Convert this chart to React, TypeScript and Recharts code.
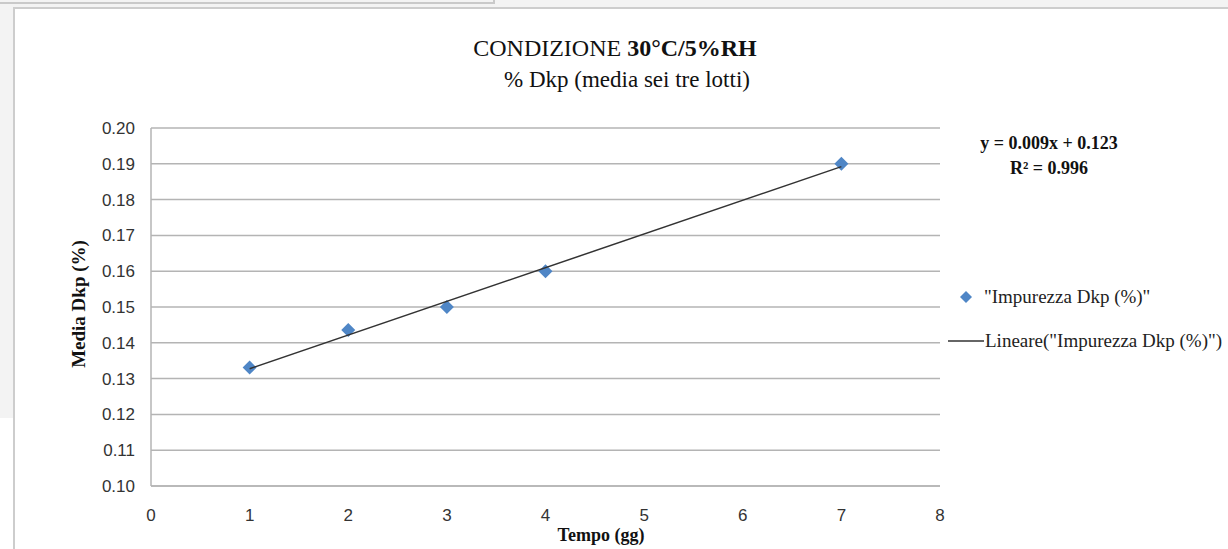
import React from "react"
import { ScatterChart, Scatter, XAxis, YAxis, CartesianGrid, Legend } from "recharts"

// mean Dkp impurity per sampling day (average of the three lots)
const days = [1, 2, 3, 4, 7]
const dkpMean = [0.1331, 0.1436, 0.15, 0.16, 0.19]

const xTicks = [0, 1, 2, 3, 4, 5, 6, 7, 8]
const yTicks = [0.1, 0.11, 0.12, 0.13, 0.14, 0.15, 0.16, 0.17, 0.18, 0.19, 0.2]

const seriesName = '"Impurezza Dkp (%)"'
const trendName = 'Lineare("Impurezza Dkp (%)")'
const equationText = "y = 0.009x + 0.123"
const r2Text = "R² = 0.996"

const points = days.map((d, i) => ({ x: d, y: dkpMean[i] }))

// least squares fit for the trend line
function linearFit(xs: number[], ys: number[]) {
  const n = xs.length
  const mx = xs.reduce((a, b) => a + b, 0) / n
  const my = ys.reduce((a, b) => a + b, 0) / n
  let sxy = 0
  let sxx = 0
  for (let i = 0; i < n; i++) {
    sxy += (xs[i] - mx) * (ys[i] - my)
    sxx += (xs[i] - mx) ** 2
  }
  const slope = sxy / sxx
  return { slope, intercept: my - slope * mx }
}

const fit = linearFit(days, dkpMean)
const trendPoints = [days[0], days[days.length - 1]].map((d) => ({
  x: d,
  y: fit.slope * d + fit.intercept,
}))

const GRID = "#b4b4b4"
const BLUE = "#4f86c6"
const SERIF = '"Liberation Serif", "Times New Roman", serif'
const SANS = '"Liberation Sans", Arial, sans-serif'

const Diamond = (props: any) => {
  const { cx, cy } = props
  const r = 7
  return (
    <polygon
      points={`${cx},${cy - r} ${cx + r},${cy} ${cx},${cy + r} ${cx - r},${cy}`}
      fill={BLUE}
    />
  )
}

const NoMarker = () => <g />

const LegendBox = () => (
  <div style={{ fontFamily: SERIF, fontSize: 19, color: "#222" }}>
    <div style={{ display: "flex", alignItems: "center", height: 28 }}>
      <svg width={37} height={20}>
        <polygon points="19,4 25,10 19,16 13,10" fill={BLUE} />
      </svg>
      <span>{seriesName}</span>
    </div>
    <div style={{ display: "flex", alignItems: "center", height: 28, marginTop: 16 }}>
      <svg width={38} height={20}>
        <line x1={1} y1={10} x2={37} y2={10} stroke="#333" strokeWidth={1.5} />
      </svg>
      <span>{trendName}</span>
    </div>
  </div>
)

export default function App() {
  return (
    <div
      style={{
        position: "absolute",
        left: 0,
        top: 0,
        width: 1228,
        height: 549,
        overflow: "hidden",
        background: "#f3f3f3",
      }}
    >
      <div
        style={{
          position: "absolute",
          left: 0,
          top: 0,
          width: 493,
          height: 2,
          borderBottom: "2px solid #c9c9c9",
          borderRight: "2px solid #c9c9c9",
        }}
      />
      <div style={{ position: "absolute", left: 0, top: 418, width: 14, height: 131, background: "#fff" }} />
      <div
        style={{
          position: "absolute",
          left: 13,
          top: 7,
          width: 1300,
          height: 600,
          background: "#fff",
          borderTop: "2px solid #cdcdcd",
          borderLeft: "2px solid #cdcdcd",
        }}
      />

      <div
        style={{
          position: "absolute",
          left: 0,
          top: 32,
          width: 1228,
          textAlign: "center",
          fontFamily: SERIF,
          lineHeight: "32px",
          color: "#111",
          paddingLeft: 14,
          boxSizing: "border-box",
        }}
      >
        <div style={{ fontSize: 24, marginLeft: -12 }}>
          CONDIZIONE <b>30°C/5%RH</b>
        </div>
        <div style={{ fontSize: 23, marginLeft: 12 }}>% Dkp (media sei tre lotti)</div>
      </div>

      <div
        style={{
          position: "absolute",
          left: 949,
          top: 131,
          width: 200,
          textAlign: "center",
          fontFamily: SERIF,
          fontWeight: "bold",
          fontSize: 18,
          lineHeight: "25px",
          color: "#111",
        }}
      >
        <div>{equationText}</div>
        <div>{r2Text}</div>
      </div>

      <div
        style={{
          position: "absolute",
          left: 79,
          top: 304,
          transform: "translate(-50%, -50%) rotate(-90deg)",
          whiteSpace: "nowrap",
          fontFamily: SERIF,
          fontWeight: "bold",
          fontSize: 19,
          color: "#111",
        }}
      >
        Media Dkp (%)
      </div>
      <div
        style={{
          position: "absolute",
          left: 601,
          top: 535,
          transform: "translate(-50%, -50%)",
          whiteSpace: "nowrap",
          fontFamily: SERIF,
          fontWeight: "bold",
          fontSize: 18,
          color: "#111",
        }}
      >
        Tempo (gg)
      </div>

      <div style={{ position: "absolute", left: 0, top: 0 }}>
        <ScatterChart
          width={1228}
          height={549}
          margin={{ top: 128, right: 288, bottom: 33, left: 91 }}
        >
          <CartesianGrid vertical={false} stroke={GRID} strokeWidth={1.5} />
          <XAxis
            type="number"
            dataKey="x"
            domain={[0, 8]}
            ticks={xTicks}
            height={30}
            tickLine={false}
            tickSize={6}
            tickMargin={17}
            axisLine={{ stroke: GRID, strokeWidth: 1.5 }}
            tick={{ fill: "#333", fontSize: 17, fontFamily: SANS }}
          />
          <YAxis
            type="number"
            dataKey="y"
            domain={[0.1, 0.2]}
            ticks={yTicks}
            width={60}
            tickLine={false}
            tickSize={6}
            tickMargin={10}
            axisLine={{ stroke: GRID, strokeWidth: 1.5 }}
            tickFormatter={(v: number) => v.toFixed(2)}
            tick={{ fill: "#333", fontSize: 17, fontFamily: SANS }}
          />
          <Legend
            layout="vertical"
            align="center"
            verticalAlign="middle"
            wrapperStyle={{ position: "absolute", left: 947, top: 283, width: 281 }}
            content={LegendBox}
          />
          <Scatter
            name={seriesName}
            data={points}
            shape={Diamond}
            isAnimationActive={false}
          />
          <Scatter
            name={trendName}
            data={trendPoints}
            line={{ stroke: "#333", strokeWidth: 1.5 }}
            shape={NoMarker}
            isAnimationActive={false}
          />
        </ScatterChart>
      </div>
    </div>
  )
}
